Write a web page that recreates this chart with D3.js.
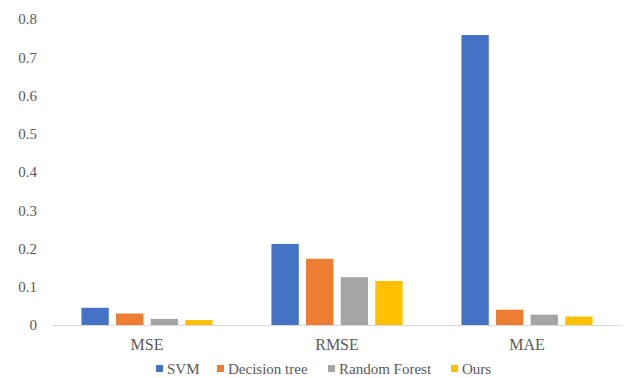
<!DOCTYPE html>
<html>
<head>
<meta charset="utf-8">
<script src="https://cdn.jsdelivr.net/npm/d3@7"></script>
<style>
  body { margin: 0; background: #fff; }
  .lbl { font-family: "Times New Roman", Tinos, "Liberation Serif", serif; fill: #595959; }
</style>
</head>
<body>
<div id="main"></div>
<script>
// data
const metrics = ["MSE", "RMSE", "MAE"];
const models = ["SVM", "Decision tree", "Random Forest", "Ours"];
const svmVals = [0.045, 0.212, 0.758];
const treeVals = [0.030, 0.173, 0.040];
const forestVals = [0.016, 0.125, 0.027];
const oursVals = [0.013, 0.115, 0.022];
const yTicks = [0, 0.1, 0.2, 0.3, 0.4, 0.5, 0.6, 0.7, 0.8];

const colors = ["#4472C4", "#ED7D31", "#A5A5A5", "#FFC000"];
const series = [svmVals, treeVals, forestVals, oursVals];

const W = 625, H = 378;
const margin = {top: 19, right: 3, bottom: 53, left: 52};
const width = W - margin.left - margin.right,
      height = H - margin.top - margin.bottom;

const svg = d3.select("#main")
  .append("svg")
    .attr("width", W)
    .attr("height", H)
  .append("g")
    .attr("transform", `translate(${margin.left},${margin.top})`);

const x0 = d3.scaleBand().domain(metrics).range([0, width]);
const x1 = d3.scaleBand().domain(models)
  .range([x0.bandwidth() * 0.155, x0.bandwidth() * 0.845])
  .paddingInner(0.21);
const y = d3.scaleLinear().domain([0, 0.8]).range([height, 0]);

// bars
const rows = metrics.map((m, i) => ({metric: m, values: series.map((s, j) => ({model: models[j], v: s[i], c: colors[j]}))}));
svg.selectAll(".grp")
  .data(rows)
  .join("g")
    .attr("class", "grp")
    .attr("transform", d => `translate(${x0(d.metric)},0)`)
  .selectAll("rect")
  .data(d => d.values)
  .join("rect")
    .attr("x", d => x1(d.model))
    .attr("y", d => y(d.v))
    .attr("width", x1.bandwidth())
    .attr("height", d => height - y(d.v))
    .attr("fill", d => d.c);

// y axis, labels only
const yAxis = svg.append("g")
  .call(d3.axisLeft(y).tickValues(yTicks).tickSize(0).tickPadding(15)
    .tickFormat(d => d === 0 ? "0" : d3.format(".1f")(d)));
yAxis.attr("font-family", null).attr("font-size", null);
yAxis.select(".domain").remove();
yAxis.selectAll("text")
  .attr("class", "lbl")
  .attr("fill", null)
  .style("font-size", "15px");

// x axis
const xAxis = svg.append("g")
  .attr("transform", `translate(0, ${height})`)
  .call(d3.axisBottom(x0).tickSize(0).tickPadding(14));
xAxis.attr("font-family", null).attr("font-size", null);
xAxis.select(".domain").attr("stroke", "#d9d9d9").attr("stroke-width", 1);
xAxis.selectAll("text")
  .attr("class", "lbl")
  .attr("fill", null)
  .style("font-size", "16px");

// legend
const legendX = [104, 165, 276, 399];
const li = svg.selectAll(".leg")
  .data(models)
  .join("g")
    .attr("class", "leg")
    .attr("transform", (d, i) => `translate(${legendX[i]},${height + 44})`);
li.append("rect")
  .attr("x", 0).attr("y", -4)
  .attr("width", 7).attr("height", 7)
  .attr("fill", (d, i) => colors[i]);
li.append("text")
  .attr("class", "lbl")
  .attr("x", 11).attr("y", 0)
  .attr("dy", "0.35em")
  .style("font-size", "15px")
  .text(d => d);
</script>
</body>
</html>
